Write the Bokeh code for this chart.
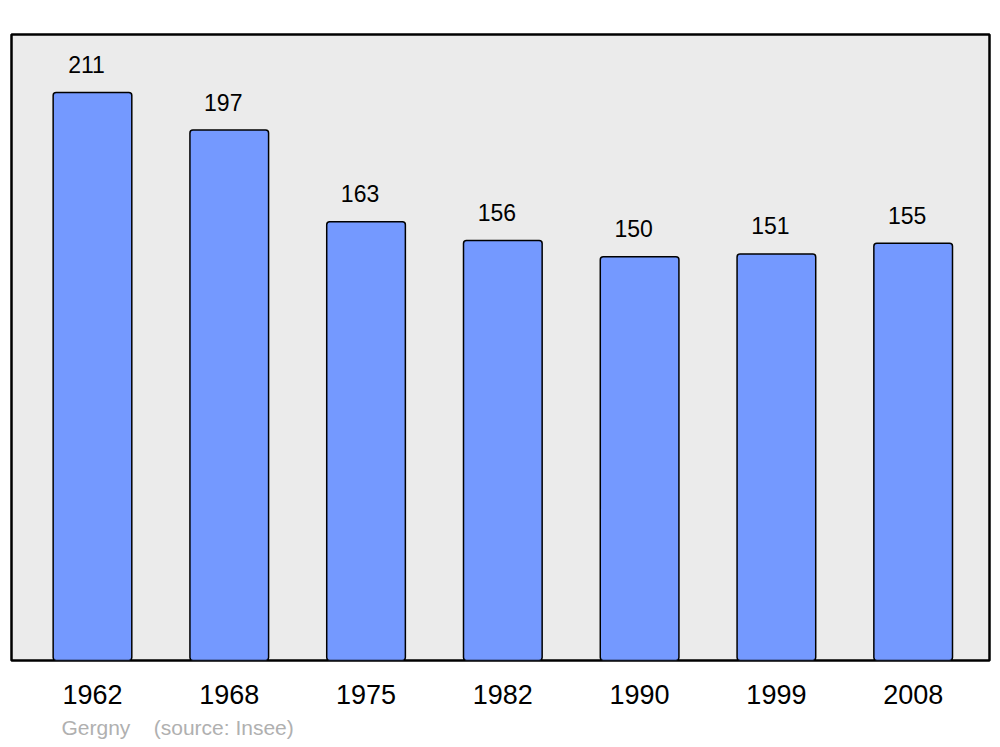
from bokeh.plotting import figure
from bokeh.models import ColumnDataSource, Range1d, FixedTicker, Title
from bokeh.core.properties import value
from bokeh.embed import file_html
from bokeh.resources import INLINE

years = ["1962", "1968", "1975", "1982", "1990", "1999", "2008"]
population = [211, 197, 163, 156, 150, 151, 155]
commune = "Gergny"
source_note = "(source: Insee)"

FONT = "Liberation Sans"
idx = list(range(len(years)))
src = ColumnDataSource(dict(x=idx, top=population, label=[str(v) for v in population]))

p = figure(width=1000, height=747, output_backend="svg", toolbar_location=None,
           x_range=Range1d(-0.592, 6.558), y_range=Range1d(0, 232.5),
           min_border_left=11, min_border_right=11, min_border_top=34, min_border_bottom=87)
p.background_fill_color = "#ebebeb"
p.border_fill_color = "white"
p.outline_line_color = "black"
p.outline_line_width = 2.5
p.grid.visible = False
p.yaxis.visible = False

p.vbar(x="x", top="top", bottom=0, width=0.575, source=src,
       fill_color="#7499ff", line_color="black", line_width=1.5, border_radius=3)
p.text(x="x", y="top", text="label", source=src, y_offset=-28, x_offset=-6,
       text_align="center", text_baseline="middle",
       text_font=value(FONT), text_font_size="23px", text_color="black")

ax = p.xaxis[0]
ax.ticker = FixedTicker(ticks=idx)
ax.major_label_overrides = {i: y for i, y in zip(idx, years)}
ax.major_label_text_font = FONT
ax.major_label_text_font_size = "27px"
ax.major_label_text_color = "black"
ax.major_label_standoff = 18
ax.axis_line_color = None
ax.major_tick_line_color = None
ax.minor_tick_line_color = None

note = Title(text=commune + "\u00a0\u00a0\u00a0\u00a0" + source_note, align="left", offset=50,
             text_font=FONT, text_font_size="21px", text_color="#b0b0b0",
             text_font_style="normal", standoff=15)
p.add_layout(note, "below")

open("out.html", "w").write(file_html(p, INLINE))
